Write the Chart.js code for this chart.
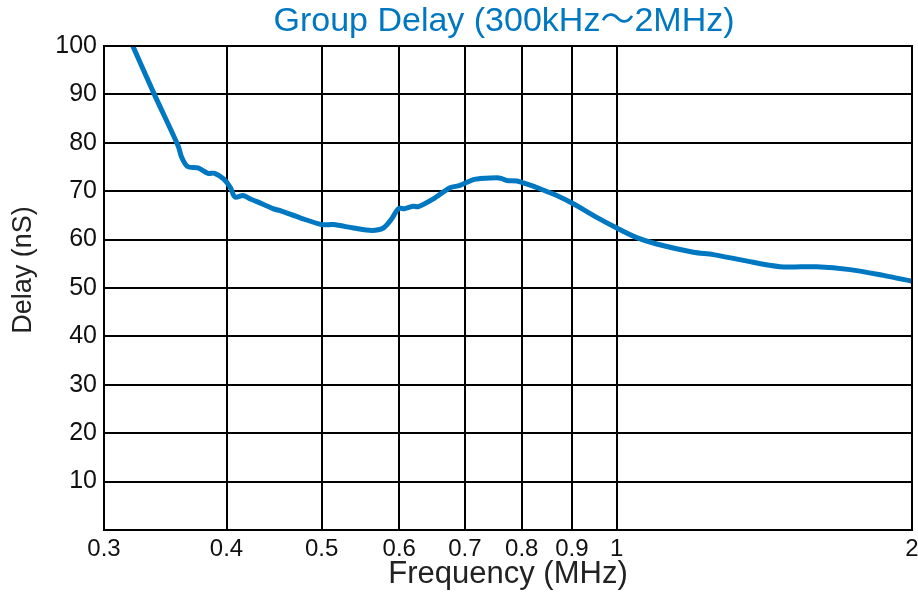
<!DOCTYPE html>
<html lang="en">
<head>
  <meta charset="UTF-8" />
  <title>Group Delay</title>
  <script src="https://cdn.jsdelivr.net/npm/chart.js"></script>
  <style>
    html, body { margin: 0; padding: 0; background: #fff; }
    #wrap { width: 918px; height: 593px; }
  </style>
</head>
<body>
  <div id="wrap"><canvas id="delayChart" width="918" height="593"></canvas></div>

  <script>
    // frequency in MHz, delay in nS
    const freqs = [0.321, 0.338, 0.357, 0.360, 0.365, 0.374, 0.383, 0.389, 0.397, 0.4035,
                   0.408, 0.416, 0.423, 0.429, 0.446, 0.455, 0.4755, 0.500, 0.514, 0.539,
                   0.5625, 0.578, 0.5895, 0.599, 0.608, 0.620, 0.6275, 0.650, 0.676, 0.692,
                   0.714, 0.725, 0.7545, 0.7635, 0.7725, 0.791, 0.803, 0.835, 0.8685, 0.903,
                   0.954, 1.000, 1.048, 1.098, 1.197, 1.254, 1.346, 1.467, 1.599, 1.729,
                   1.870, 2.000];
    const delays = [100, 89.8, 79.4, 77.0, 75.1, 74.8, 73.7, 73.7, 72.6, 70.8,
                    68.8, 69.1, 68.4, 67.9, 66.4, 65.9, 64.5, 63.1, 63.1, 62.4,
                    61.9, 62.4, 64.3, 66.4, 66.4, 66.9, 66.8, 68.4, 70.7, 71.2,
                    72.4, 72.6, 72.8, 72.6, 72.2, 72.1, 71.7, 70.5, 69.1, 67.4,
                    64.6, 62.4, 60.4, 59.1, 57.4, 56.9, 55.7, 54.4, 54.4, 53.8,
                    52.6, 51.4];
    const xTicks = [0.3, 0.4, 0.5, 0.6, 0.7, 0.8, 0.9, 1, 2];
    const yTicks = [0, 10, 20, 30, 40, 50, 60, 70, 80, 90, 100];

    const chartTitle = 'Group Delay (300kHz～2MHz)';
    const yTitle = 'Delay (nS)';
    const xTitle = 'Frequency (MHz)';

    const blue = '#0078c1';
    const sans = "'Liberation Sans', Arial, 'Noto Sans CJK JP', sans-serif";

    const points = freqs.map((f, i) => ({ x: f, y: delays[i] }));

    // chart title and y title are drawn by hand so they sit where the original has them
    const labelsPlugin = {
      id: 'labels',
      afterDraw(chart) {
        const { ctx, chartArea: a } = chart;
        ctx.save();
        // frame
        ctx.strokeStyle = '#000';
        ctx.lineWidth = 2;
        ctx.strokeRect(a.left, a.top, a.right - a.left, a.bottom - a.top);

        ctx.textAlign = 'center';
        ctx.textBaseline = 'middle';
        ctx.fillStyle = blue;
        ctx.font = '34px ' + sans;
        ctx.fillText(chartTitle, 504, 22);

        ctx.fillStyle = '#222';
        ctx.font = '27px ' + sans;
        ctx.translate(24, 270);
        ctx.rotate(-Math.PI / 2);
        ctx.fillText(yTitle, 0, 0);
        ctx.restore();
      }
    };

    new Chart(document.getElementById('delayChart'), {
      type: 'line',
      data: {
        datasets: [{
          data: points,
          borderColor: blue,
          borderWidth: 5,
          pointRadius: 0,
          tension: 0.3,
          fill: false
        }]
      },
      options: {
        responsive: false,
        animation: false,
        layout: { padding: { top: 46, right: 6 } },
        plugins: {
          legend: { display: false },
          tooltip: { enabled: false },
          title: { display: false }
        },
        scales: {
          x: {
            type: 'logarithmic',
            min: 0.3,
            max: 2,
            afterBuildTicks: s => { s.ticks = xTicks.map(v => ({ value: v })); },
            afterFit: s => { s.height = 63; s.paddingLeft = 0; s.paddingRight = 0; },
            grid: { color: '#000', lineWidth: 2, drawTicks: false },
            border: { color: '#000', width: 2 },
            ticks: {
              color: '#111',
              padding: 5,
              maxRotation: 0,
              autoSkip: false,
              font: { family: sans, size: 24 },
              callback: v => String(v)
            },
            title: {
              display: true,
              text: xTitle,
              color: '#222',
              font: { family: sans, size: 31 },
              padding: { top: 0, bottom: 0 }
            }
          },
          y: {
            min: 0,
            max: 100,
            afterBuildTicks: s => { s.ticks = yTicks.map(v => ({ value: v })); },
            afterFit: s => { s.width = 104; s.paddingTop = 0; s.paddingBottom = 0; },
            grid: { color: '#000', lineWidth: 2, drawTicks: false },
            border: { color: '#000', width: 2 },
            ticks: {
              color: '#111',
              padding: 7,
              font: { family: sans, size: 25 },
              callback: v => (v === 0 ? '' : String(v))
            }
          }
        }
      },
      plugins: [labelsPlugin]
    });
  </script>
</body>
</html>
